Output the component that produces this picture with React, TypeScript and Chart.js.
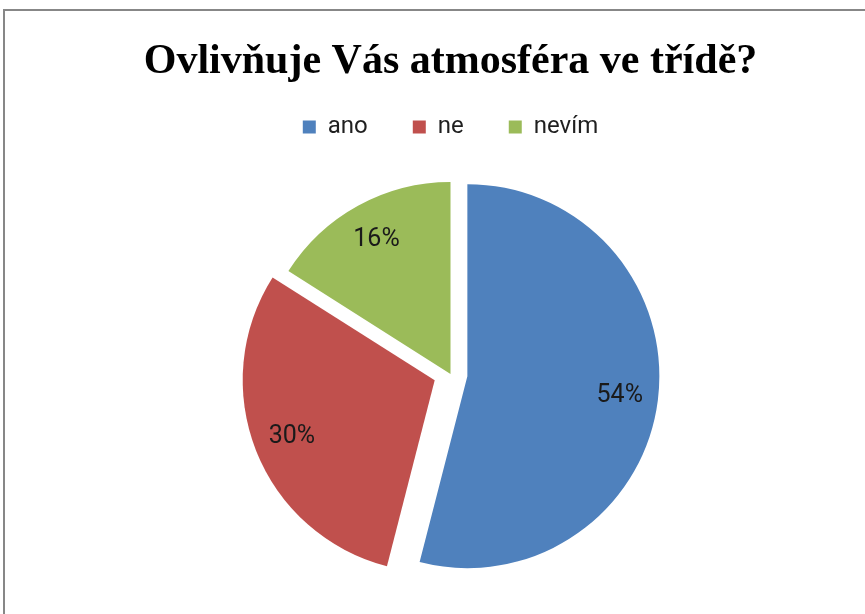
import React, { useEffect, useRef } from "react";
import { Chart, registerables } from "chart.js";

Chart.register(...registerables);

const TITLE = "Ovlivňuje Vás atmosféra ve třídě?";
const categories = ["ano", "ne", "nevím"];
const values = [54, 30, 16];
const colors = ["#4F81BD", "#C0504D", "#9BBB59"];
const explode = [17, 17, 0];

const SANS = "Roboto, 'Open Sans', sans-serif";

const explodePlugin = {
  id: "explodeSlices",
  beforeDatasetDraw(chart: any, args: any) {
    const meta = args.meta;
    const ctx = chart.ctx;
    meta.data.forEach((arc: any, i: number) => {
      const mid = (arc.startAngle + arc.endAngle) / 2;
      const d = explode[i] || 0;
      ctx.save();
      ctx.translate(Math.cos(mid) * d, Math.sin(mid) * d);
      arc.draw(ctx);
      ctx.restore();
    });
    return false;
  },
};

const labelPlugin = {
  id: "pieLabels",
  afterDatasetsDraw(chart: any) {
    const meta = chart.getDatasetMeta(0);
    const ctx = chart.ctx;
    const data = chart.data.datasets[0].data as number[];
    const total = data.reduce((a, b) => a + b, 0);
    ctx.save();
    ctx.font = `25px ${SANS}`;
    ctx.fillStyle = "#1a1a1a";
    ctx.textAlign = "center";
    ctx.textBaseline = "middle";
    meta.data.forEach((arc: any, i: number) => {
      const mid = (arc.startAngle + arc.endAngle) / 2;
      const d = explode[i] || 0;
      const r = arc.outerRadius * 0.8 + d;
      const x = arc.x + Math.cos(mid) * r;
      const y = arc.y + Math.sin(mid) * r;
      ctx.fillText(Math.round((data[i] / total) * 100) + "%", x, y);
    });
    ctx.restore();
  },
};

export default function App() {
  const ref = useRef<HTMLCanvasElement | null>(null);
  useEffect(() => {
    if (!ref.current) return;
    const chart = new Chart(ref.current, {
      type: "pie",
      data: {
        labels: categories,
        datasets: [
          {
            data: values,
            backgroundColor: colors,
            borderWidth: 0,
            radius: 192,
          } as any,
        ],
      },
      options: {
        responsive: false,
        animation: false,
        devicePixelRatio: 1,
        layout: { padding: { top: 0, left: 36, right: 0, bottom: 15 } },
        plugins: {
          title: {
            display: true,
            text: TITLE,
            color: "#000",
            font: { family: "'Liberation Serif', 'Times New Roman', serif", size: 42, weight: "bold", lineHeight: 0.2 },
            padding: { top: 57.6, bottom: 4 },
          },
          legend: {
            display: true,
            position: "top",
            labels: {
              color: "#1f1f1f",
              font: { family: SANS, size: 24 },
              boxWidth: 13,
              boxHeight: 13,
              padding: 45,
            },
          },
          tooltip: { enabled: false },
        },
      } as any,
      plugins: [explodePlugin, labelPlugin],
    });
    return () => chart.destroy();
  }, []);
  return (
    <div style={{ position: "fixed", left: 0, top: 0, width: 865, height: 614, overflow: "hidden", background: "#fff" }}>
      <div
        style={{
          position: "absolute",
          left: 3,
          top: 9,
          width: 880,
          height: 640,
          borderTop: "2px solid #878787",
          borderLeft: "2px solid #878787",
          boxSizing: "border-box",
        }}
      />
      <canvas ref={ref} width={865} height={614} style={{ position: "absolute", left: 0, top: 0 }} />
    </div>
  );
}
